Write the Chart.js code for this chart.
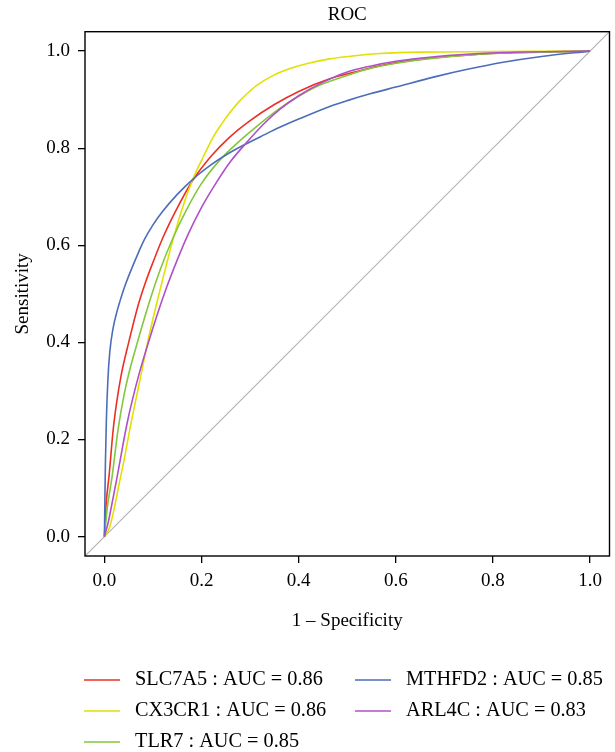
<!DOCTYPE html>
<html><head><meta charset="utf-8">
<script src="https://cdn.jsdelivr.net/npm/chart.js@4/dist/chart.umd.min.js"></script>
<style>html,body{margin:0;padding:0;background:#fff;} #wrap{position:relative;width:615px;height:752px;}</style>
</head><body><div id="wrap"><canvas id="c" width="615" height="752"></canvas></div>
<script>
const chartTitle = 'ROC';
const xAxisTitle = '1 – Specificity';
const yAxisTitle = 'Sensitivity';
const tickValues = [0, 0.2, 0.4, 0.6, 0.8, 1.0];
const seriesNames = ['SLC7A5', 'CX3CR1', 'TLR7', 'MTHFD2', 'ARL4C'];
const aucValues = ['0.86', '0.86', '0.85', '0.85', '0.83'];
const seriesColors = ['#EC2F24', '#E2E000', '#83C83C', '#4C6DBA', '#B050C8'];

const fprSLC7A5 = [0, 0.003, 0.010, 0.018, 0.025, 0.035, 0.050, 0.069, 0.085, 0.100, 0.121, 0.150, 0.182, 0.220, 0.258, 0.300, 0.350, 0.400, 0.464, 0.520, 0.567, 0.650, 0.750, 0.850, 1.0];
const tprSLC7A5 = [0, 0.060, 0.130, 0.220, 0.275, 0.335, 0.400, 0.475, 0.525, 0.565, 0.617, 0.677, 0.734, 0.784, 0.823, 0.857, 0.890, 0.917, 0.943, 0.958, 0.970, 0.983, 0.992, 0.997, 1.0];

const fprCX3CR1 = [0, 0.010, 0.018, 0.032, 0.040, 0.0525, 0.073, 0.090, 0.109, 0.125, 0.144, 0.165, 0.182, 0.200, 0.224, 0.240, 0.258, 0.280, 0.300, 0.313, 0.350, 0.382, 0.420, 0.464, 0.520, 0.567, 0.650, 0.800, 1.0];
const tprCX3CR1 = [0, 0.017, 0.048, 0.117, 0.155, 0.222, 0.322, 0.405, 0.486, 0.550, 0.622, 0.690, 0.736, 0.775, 0.823, 0.848, 0.873, 0.899, 0.918, 0.929, 0.951, 0.964, 0.975, 0.984, 0.991, 0.995, 0.998, 0.999, 1.0];

const fprTLR7 = [0, 0.006, 0.016, 0.028, 0.040, 0.050, 0.065, 0.090, 0.115, 0.142, 0.170, 0.199, 0.238, 0.275, 0.310, 0.361, 0.400, 0.444, 0.500, 0.547, 0.600, 0.684, 0.800, 0.900, 1.0];
const tprTLR7 = [0, 0.060, 0.125, 0.220, 0.290, 0.335, 0.390, 0.475, 0.550, 0.617, 0.675, 0.726, 0.776, 0.812, 0.842, 0.882, 0.907, 0.930, 0.950, 0.964, 0.975, 0.986, 0.995, 0.998, 1.0];

const fprMTHFD2 = [0, 0.001, 0.002, 0.004, 0.007, 0.011, 0.018, 0.027, 0.032, 0.040, 0.050, 0.070, 0.083, 0.100, 0.120, 0.150, 0.182, 0.220, 0.250, 0.286, 0.330, 0.361, 0.400, 0.464, 0.500, 0.547, 0.600, 0.684, 0.750, 0.821, 0.900, 1.0];
const tprMTHFD2 = [0, 0.080, 0.150, 0.240, 0.320, 0.380, 0.430, 0.468, 0.485, 0.510, 0.537, 0.585, 0.613, 0.642, 0.670, 0.705, 0.736, 0.766, 0.786, 0.806, 0.828, 0.843, 0.860, 0.886, 0.898, 0.912, 0.926, 0.948, 0.963, 0.977, 0.989, 1.0];

const fprARL4C = [0, 0.008, 0.015, 0.025, 0.030, 0.047, 0.070, 0.100, 0.125, 0.150, 0.173, 0.200, 0.231, 0.260, 0.293, 0.330, 0.361, 0.400, 0.444, 0.500, 0.547, 0.600, 0.684, 0.821, 1.0];
const tprARL4C = [0, 0.030, 0.065, 0.117, 0.144, 0.235, 0.330, 0.430, 0.505, 0.570, 0.624, 0.678, 0.730, 0.773, 0.812, 0.852, 0.880, 0.908, 0.933, 0.957, 0.969, 0.979, 0.989, 0.997, 1.0];

const diagX = [-0.04, 1.04];
const diagY = [-0.04, 1.04];

const fprList = [fprSLC7A5, fprCX3CR1, fprTLR7, fprMTHFD2, fprARL4C];
const tprList = [tprSLC7A5, tprCX3CR1, tprTLR7, tprMTHFD2, tprARL4C];

const FONT = "'Liberation Serif', 'Times New Roman', serif";
const FS = 19;
Chart.defaults.font.family = FONT;
Chart.defaults.color = '#000';

const datasets = seriesNames.map((name, i) => ({
  label: name + ' : AUC = ' + aucValues[i],
  data: fprList[i].map((x, j) => ({x: x, y: tprList[i][j]})),
  borderColor: seriesColors[i],
  backgroundColor: seriesColors[i],
  borderWidth: 1.6,
  pointRadius: 0,
  fill: false,
  cubicInterpolationMode: 'monotone',
  order: 5 - i
}));
datasets.push({
  label: 'diagonal',
  data: diagX.map((x, j) => ({x: x, y: diagY[j]})),
  borderColor: '#B4B4B4',
  borderWidth: 1.2,
  pointRadius: 0,
  fill: false,
  order: 10
});

const framePlugin = {
  id: 'frame',
  afterDraw(c) {
    const a = c.chartArea, g = c.ctx;
    g.save();
    g.strokeStyle = '#000';
    g.lineWidth = 1.4;
    g.strokeRect(a.left, a.top, a.right - a.left, a.bottom - a.top);
    g.fillStyle = '#000';
    g.font = FS + 'px ' + FONT;
    g.textAlign = 'center';
    g.textBaseline = 'middle';
    g.fillText(chartTitle, (a.left + a.right) / 2, 15.5);
    g.restore();
  }
};

const legendPlugin = {
  id: 'roclegend',
  afterDraw(c) {
    const g = c.ctx;
    const colX = [84, 355];
    const rowY = [680, 711, 742];
    g.save();
    g.font = '20.3px ' + FONT;
    g.textAlign = 'left';
    g.textBaseline = 'middle';
    seriesNames.forEach((name, i) => {
      const col = i < 3 ? 0 : 1;
      const row = i < 3 ? i : i - 3;
      const x = colX[col], y = rowY[row];
      g.strokeStyle = seriesColors[i];
      g.lineWidth = 1.6;
      g.beginPath();
      g.moveTo(x, y);
      g.lineTo(x + 36, y);
      g.stroke();
      g.fillStyle = '#000';
      g.fillText(c.data.datasets[i].label, x + 51, y);
    });
    g.restore();
  }
};

new Chart(document.getElementById('c'), {
  type: 'line',
  data: {datasets: datasets},
  options: {
    responsive: false,
    animation: false,
    devicePixelRatio: 1,
    layout: {padding: {left: 0, right: 5.5, top: 31.7, bottom: 120}},
    plugins: {legend: {display: false}, tooltip: {enabled: false}, title: {display: false}},
    scales: {
      x: {
        type: 'linear', min: -0.04, max: 1.04,
        afterBuildTicks: s => { s.ticks = tickValues.map(v => ({value: v})); },
        afterFit: s => { s.height = 76; },
        grid: {drawOnChartArea: false, drawTicks: true, tickLength: 7, color: '#000', lineWidth: 1.3},
        border: {display: false},
        ticks: {padding: 7, color: '#000', font: {size: FS}, maxRotation: 0, autoSkip: false, callback: v => Number(v).toFixed(1)},
        title: {display: true, text: xAxisTitle, color: '#000', font: {size: FS}, padding: {top: 0, bottom: 0}}
      },
      y: {
        type: 'linear', min: -0.04, max: 1.04,
        afterBuildTicks: s => { s.ticks = tickValues.map(v => ({value: v})); },
        afterFit: s => { s.width = 85; },
        grid: {drawOnChartArea: false, drawTicks: true, tickLength: 7, color: '#000', lineWidth: 1.3},
        border: {display: false},
        ticks: {padding: 8, color: '#000', font: {size: FS}, autoSkip: false, callback: v => Number(v).toFixed(1)},
        title: {display: true, text: yAxisTitle, color: '#000', font: {size: FS}, padding: {top: 12, bottom: 0}}
      }
    }
  },
  plugins: [framePlugin, legendPlugin]
});
</script>
</body></html>
